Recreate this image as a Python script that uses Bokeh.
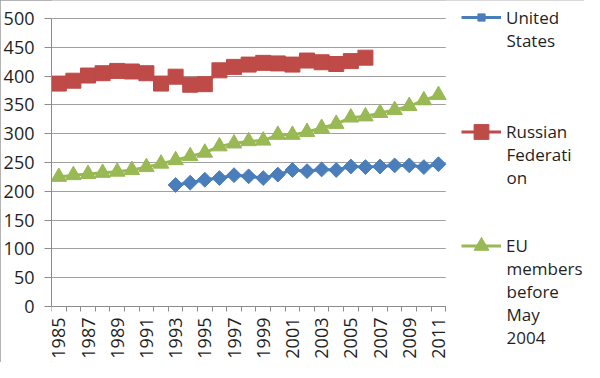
import numpy as np
from bokeh.plotting import figure
from bokeh.models import (FixedTicker, Legend, LegendItem, Range1d, ColumnDataSource,
                          BoxAnnotation, Label)
from bokeh.embed import file_html
from bokeh.resources import INLINE

# ---------------- data ----------------
years = [1985, 1986, 1987, 1988, 1989, 1990, 1991, 1992, 1993, 1994, 1995, 1996, 1997, 1998,
         1999, 2000, 2001, 2002, 2003, 2004, 2005, 2006, 2007, 2008, 2009, 2010, 2011]
united_states = [None, None, None, None, None, None, None, None, 211, 215, 220, 223, 228, 226,
                 223, 229, 237, 235, 238, 237, 243, 242, 243, 245, 245, 242, 247]
russian_federation = [387, 392, 401, 405, 409, 408, 405, 387, 399, 385, 386, 410, 416, 420,
                      423, 422, 420, 427, 424, 421, 426, 432, None, None, None, None, None]
eu_before_2004 = [225, 228, 230, 232, 234, 237, 242, 248, 254, 261, 267, 278, 283, 287,
                  288, 298, 298, 303, 310, 317, 328, 330, 336, 341, 348, 358, 367]
series_labels = [["United", "States"],
                 ["Russian", "Federati", "on"],
                 ["EU", "members", "before", "May", "2004"]]
x_tick_years = [1985, 1987, 1989, 1991, 1993, 1995, 1997, 1999, 2001, 2003, 2005, 2007, 2009, 2011]
y_ticks = [0, 50, 100, 150, 200, 250, 300, 350, 400, 450, 500]

FONT = "Open Sans"
TXT = "#1f1f1f"
AX = "#8c8c8c"
GRID = "#a0a0a0"
BLUE = "#4a7ebb"
RED = "#be4b48"
GREEN = "#98b954"

W, H = 584, 362
LEFT = 50                      # px reserved for the y-axis labels
X0, X1 = years[0] - 0.5, years[-1] + 0.5
# the frame covers the whole canvas (legend area to the right, tick labels below);
# ranges are padded so that the data area sits where the reference has it
PX_PER_YEAR = 395 / (X1 - X0)
X_END = X0 + (W - LEFT) / PX_PER_YEAR
PX_PER_UNIT = 288 / (y_ticks[-1] - y_ticks[0])
Y_START = y_ticks[0] - (H - 306) / PX_PER_UNIT
Y_END = y_ticks[-1] + 18 / PX_PER_UNIT

src = ColumnDataSource(dict(
    x=years,
    us=np.array(united_states, dtype=float),
    ru=np.array(russian_federation, dtype=float),
    eu=np.array(eu_before_2004, dtype=float),
))

p = figure(width=W, height=H, x_range=Range1d(X0, X_END), y_range=Range1d(Y_START, Y_END),
           output_backend="svg", toolbar_location=None,
           min_border_left=LEFT, min_border_right=0, min_border_top=0, min_border_bottom=0)
p.outline_line_color = None
p.background_fill_color = "white"
p.border_fill_color = "white"
p.styles = {"outline": "1px solid #9a9a9a", "outline-offset": "-1px"}

# grid
p.xgrid.visible = False
p.ygrid.ticker = FixedTicker(ticks=y_ticks)
p.ygrid.grid_line_color = GRID
p.ygrid.grid_line_width = 1
# blank the legend area to the right of the plot area
p.add_layout(BoxAnnotation(left=X1, fill_color="white", fill_alpha=1, line_color=None,
                           level="underlay"))

# y axis
p.yaxis.ticker = FixedTicker(ticks=y_ticks)
p.yaxis.bounds = (y_ticks[0], y_ticks[-1])
p.yaxis.axis_line_color = AX
p.yaxis.major_tick_line_color = AX
p.yaxis.major_tick_out = 7
p.yaxis.major_tick_in = 0
p.yaxis.minor_tick_line_color = None
p.yaxis.major_label_standoff = 10
p.yaxis.major_label_text_font = FONT
p.yaxis.major_label_text_font_size = "18px"
p.yaxis.major_label_text_color = TXT

# x axis (sits at y = 0)
p.xaxis.fixed_location = y_ticks[0]
p.xaxis.bounds = (X0, X1)
p.xaxis.ticker = FixedTicker(ticks=x_tick_years,
                             minor_ticks=[y - 0.5 for y in years] + [X1])
p.xaxis.axis_line_color = AX
p.xaxis.major_tick_line_color = None
p.xaxis.major_tick_out = 5
p.xaxis.major_tick_in = 0
p.xaxis.minor_tick_line_color = AX
p.xaxis.minor_tick_out = 5
p.xaxis.minor_tick_in = 0
p.xaxis.major_label_orientation = np.pi / 2
p.xaxis.major_label_standoff = 6
p.xaxis.major_label_text_font = FONT
p.xaxis.major_label_text_font_size = "18px"
p.xaxis.major_label_text_color = TXT

# series
l_us = p.line("x", "us", source=src, line_color=BLUE, line_width=3)
m_us = p.scatter("x", "us", source=src, marker="square", angle=np.pi / 4, size=10.5,
                 fill_color=BLUE, line_color=BLUE)
l_ru = p.line("x", "ru", source=src, line_color=RED, line_width=3)
m_ru = p.scatter("x", "ru", source=src, marker="square", size=15,
                 fill_color=RED, line_color=RED)
l_eu = p.line("x", "eu", source=src, line_color=GREEN, line_width=3)
m_eu = p.scatter("x", "eu", source=src, marker="triangle", size=15.5,
                 fill_color=GREEN, line_color=GREEN)

# ---------------- legends (one per series; label wrapped over several lines) ----------------
LEG_X = 410          # swatch start, px from the frame's left edge
GLYPH_W = 40
STANDOFF = 5
LINE_PX = 23         # spacing of the wrapped label lines
specs = [
    # renderers, swatch box height, centre of the first label line (px from top)
    ([l_us, m_us], 18, 17),
    ([l_ru, m_ru], 37, 131),
    ([l_eu, m_eu], 37, 245),
]
for (rends, gh, first), lines in zip(specs, series_labels):
    item_h = max(gh, 24)
    leg = Legend(items=[LegendItem(label=lines[0], renderers=rends)],
                 location=(LEG_X, H - first - item_h / 2))
    leg.border_line_color = None
    leg.background_fill_alpha = 0
    leg.padding = 0
    leg.margin = 0
    leg.glyph_width = GLYPH_W
    leg.glyph_height = gh
    leg.label_standoff = STANDOFF
    leg.label_height = 24
    leg.label_text_font = FONT
    leg.label_text_font_size = "17px"
    leg.label_text_color = TXT
    leg.label_text_line_height = 1.0
    p.add_layout(leg, "center")
    # continuation lines of the wrapped label
    for k, txt in enumerate(lines[1:], start=1):
        p.add_layout(Label(x=LEG_X + GLYPH_W + STANDOFF, y=H - (first + k * LINE_PX),
                           x_units="screen", y_units="screen", text=txt,
                           text_font=FONT, text_font_size="17px", text_color=TXT,
                           text_align="left", text_baseline="middle"))

open("out.html", "w").write(file_html(p, INLINE))
